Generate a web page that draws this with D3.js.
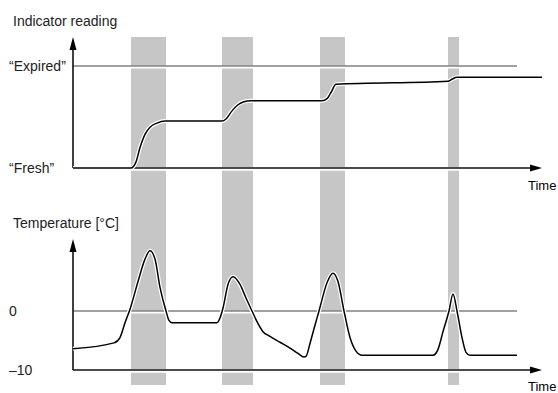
<!DOCTYPE html>
<html>
<head>
<meta charset="utf-8">
<script src="https://cdn.jsdelivr.net/npm/d3@7"></script>
<style>
  body { margin: 0; background: #fff; }
  text { font-family: "Liberation Sans", Arial, sans-serif; font-size: 14px; fill: #222; }
</style>
</head>
<body>
<div id="chart"></div>
<script>
// time in arbitrary units (0..94)
const warmPeriods = [[11.6, 18.6], [29.8, 36], [49.4, 54.4], [75, 77.2]];

// indicator reading, 0 = "Fresh", 1 = "Expired"
const indTime  = [0, 11.6, 12.6, 13.4, 14.4, 15.4, 16.8, 18.4, 29.8, 30.6, 31.8, 33, 34.2, 35.6, 49.8, 50.8, 51.6, 52.6, 75, 75.8, 76.8, 93.8];
const indValue = [0, 0, 0.06, 0.2, 0.33, 0.4, 0.44, 0.46, 0.46, 0.48, 0.56, 0.62, 0.65, 0.66, 0.66, 0.68, 0.74, 0.82, 0.85, 0.87, 0.89, 0.89];

// temperature in °C
const tempTime  = [0, 8.2, 9.4, 10.4, 11.4, 13, 14.4, 15.4, 16.4, 17.4, 18.6, 19.2, 19.8, 28.8, 29.4, 30, 31, 32, 33.4, 34.6, 35.8, 36.8, 38, 39.4, 41.4, 43.4, 45, 46.2, 46.6, 47.4, 48.2, 49.2, 50.8, 52, 53, 54.2, 55.4, 56.6, 57.8, 72, 73, 74, 75.2, 76, 76.8, 77.8, 78.6, 79.4, 88.8];
const tempValue = [-6.4, -5.4, -4.5, -2, 0.3, 5, 8.8, 10.2, 8.8, 4, 0, -1.6, -2, -2, -1.2, 0.5, 4.5, 5.8, 4.5, 2.2, 0, -1.8, -3.5, -4.3, -5.3, -6.3, -7.2, -7.8, -7.7, -5.5, -3, 0, 4.8, 6.4, 5, 0, -4.5, -6.8, -7.5, -7.5, -6.5, -3.5, 0, 2.9, 0, -4.5, -7, -7.5, -7.5];

const indTicks  = [{v: 1, label: "\u201cExpired\u201d"}, {v: 0, label: "\u201cFresh\u201d"}];
const tempTicks = [{v: 0, label: "0"}, {v: -10, label: "\u201310"}];

const width = 558, height = 393;
const svg = d3.select("#chart").append("svg")
  .attr("width", width).attr("height", height);

const x = d3.scaleLinear().domain([0, 94]).range([73, 543]);
const yInd = d3.scaleLinear().domain([0, 1]).range([168, 66]);
const yTemp = d3.scaleLinear().domain([-10, 0]).range([370, 311]);

// grey bands over both panels
svg.selectAll("rect.band")
  .data(warmPeriods)
  .enter().append("rect")
  .attr("x", d => x(d[0]))
  .attr("width", d => x(d[1]) - x(d[0]))
  .attr("y", 37)
  .attr("height", 348)
  .attr("fill", "#c6c6c6");

function haloLine(x1, y1, x2, y2, color, w) {
  svg.append("line").attr("x1", x1).attr("y1", y1 + 1).attr("x2", x2).attr("y2", y2 + 1)
    .attr("stroke", "#fff").attr("stroke-width", w + 2);
  svg.append("line").attr("x1", x1).attr("y1", y1).attr("x2", x2).attr("y2", y2)
    .attr("stroke", color).attr("stroke-width", w);
}

function arrowUp(cx, tip) {
  svg.append("path").attr("d", `M${cx},${tip} L${cx - 3.5},${tip + 13} L${cx + 3.5},${tip + 13} Z`).attr("fill", "#000");
}
function arrowRight(tip, cy) {
  svg.append("path").attr("d", `M${tip},${cy} L${tip - 12},${cy - 3.5} L${tip - 12},${cy + 3.5} Z`).attr("fill", "#000");
}

// reference lines
haloLine(x(0), yInd(1), 517, yInd(1), "#444", 1.2);
haloLine(x(0), yTemp(0), 517, yTemp(0), "#444", 1.2);

// axes
haloLine(x(0), yInd(0), 532, yInd(0), "#111", 1.6);
haloLine(x(0), yTemp(-10), 532, yTemp(-10), "#111", 1.6);
svg.append("line").attr("x1", x(0)).attr("x2", x(0)).attr("y1", 45).attr("y2", yInd(0))
  .attr("stroke", "#111").attr("stroke-width", 1.6);
svg.append("line").attr("x1", x(0)).attr("x2", x(0)).attr("y1", 248).attr("y2", yTemp(-10))
  .attr("stroke", "#111").attr("stroke-width", 1.6);
arrowUp(x(0), 37);
arrowUp(x(0), 239);
arrowRight(542, yInd(0));
arrowRight(542, yTemp(-10));

// curves
function drawCurve(times, values, y) {
  const pts = times.map((t, i) => [t, values[i]]);
  const line = d3.line().x(d => x(d[0])).y(d => y(d[1])).curve(d3.curveMonotoneX);
  svg.append("path").attr("d", line(pts)).attr("fill", "none")
    .attr("stroke", "#fff").attr("stroke-width", 4);
  svg.append("path").attr("d", line(pts)).attr("fill", "none")
    .attr("stroke", "#000").attr("stroke-width", 1.5);
}
drawCurve(indTime, indValue, yInd);
drawCurve(tempTime, tempValue, yTemp);

// labels
svg.append("text").attr("x", 13).attr("y", 26).text("Indicator reading");
svg.append("text").attr("x", 13).attr("y", 228).text("Temperature [\u00b0C]");
svg.selectAll("text.ind").data(indTicks).enter().append("text")
  .attr("x", 9).attr("y", d => yInd(d.v) + 5).text(d => d.label);
svg.selectAll("text.temp").data(tempTicks).enter().append("text")
  .attr("x", 9).attr("y", d => yTemp(d.v) + 5).text(d => d.label);
svg.append("text").attr("x", 528).attr("y", 190).style("fill", "#000").style("font-size", "13px").text("Time");
svg.append("text").attr("x", 528).attr("y", 391).style("fill", "#000").style("font-size", "13px").text("Time");
</script>
</body>
</html>
